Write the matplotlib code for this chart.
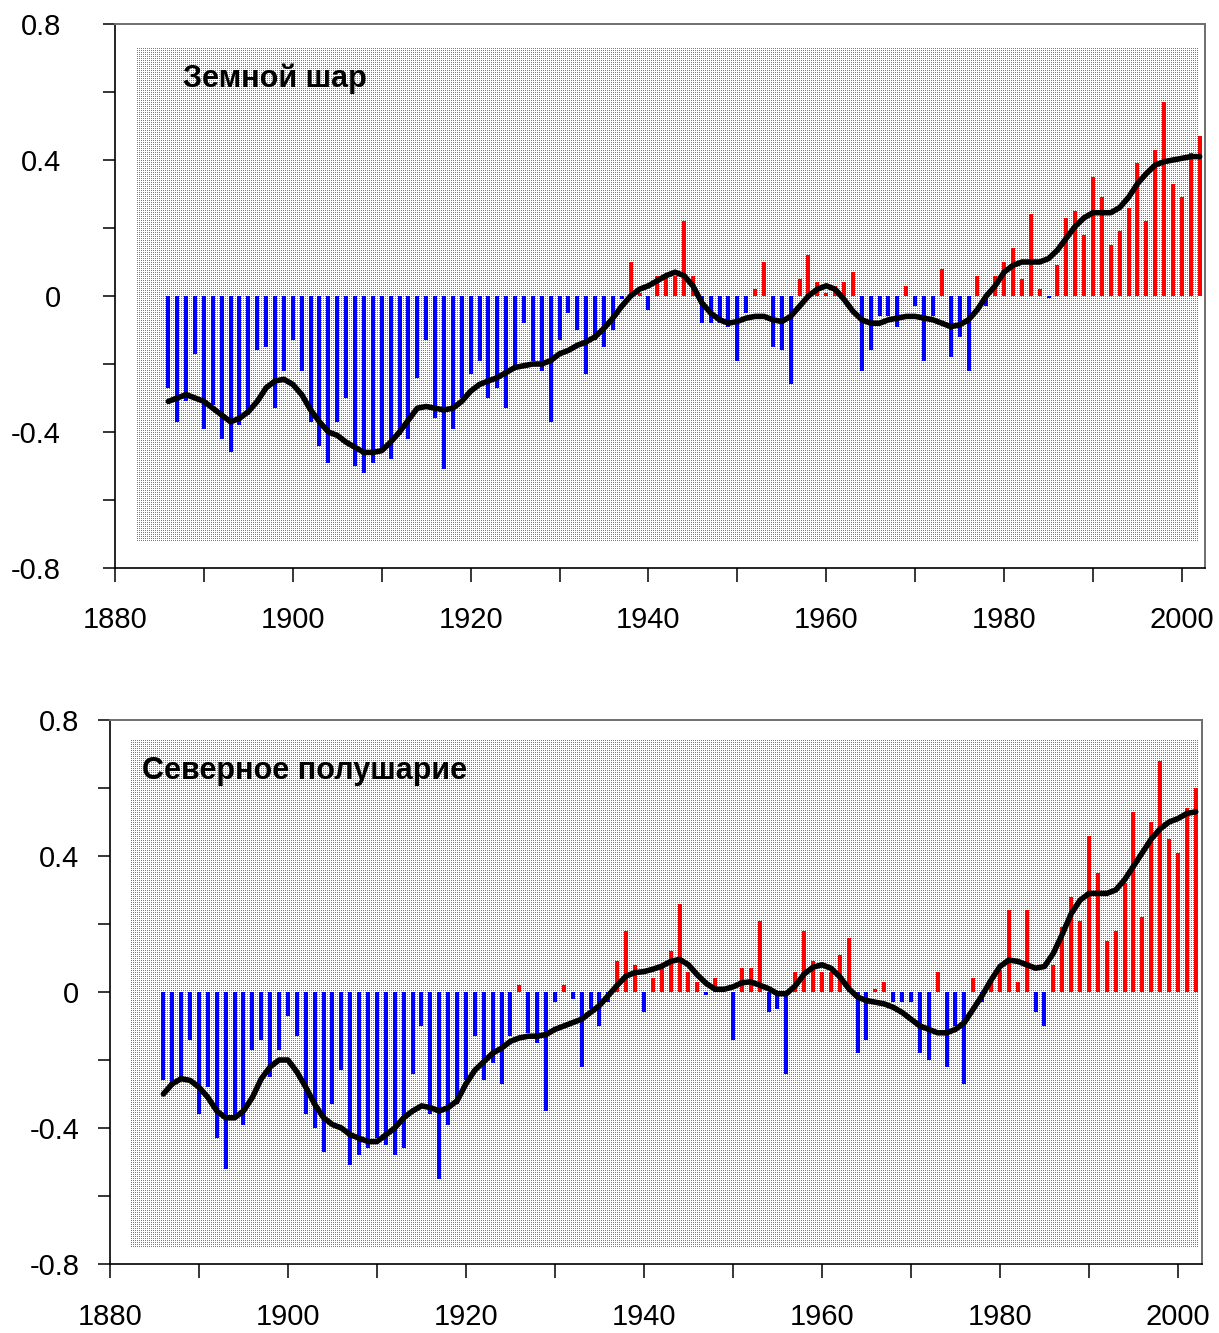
import numpy as np
import matplotlib
matplotlib.use("Agg")
import matplotlib.pyplot as plt
from matplotlib.colors import ListedColormap

plt.rcParams['font.family'] = ['Liberation Sans', 'DejaVu Sans']

years = list(range(1886, 2003))

# global (Земной шар) annual anomalies
globe_vals = [
    -0.27, -0.37, -0.31, -0.17, -0.39, -0.32, -0.42, -0.46, -0.38, -0.35,   # 1886-1895
    -0.16, -0.15, -0.33, -0.22, -0.13, -0.22, -0.37, -0.44, -0.49, -0.37,   # 1896-1905
    -0.30, -0.50, -0.52, -0.49, -0.45, -0.48, -0.41, -0.42, -0.24, -0.13,   # 1906-1915
    -0.36, -0.51, -0.39, -0.30, -0.23, -0.19, -0.30, -0.27, -0.33, -0.21,   # 1916-1925
    -0.08, -0.19, -0.22, -0.37, -0.13, -0.05, -0.10, -0.23, -0.13, -0.15,   # 1926-1935
    -0.10, -0.01, 0.10, 0.01, -0.04, 0.06, 0.06, 0.06, 0.22, 0.06,          # 1936-1945
    -0.08, -0.08, -0.08, -0.09, -0.19, -0.05, 0.02, 0.10, -0.15, -0.16,     # 1946-1955
    -0.26, 0.05, 0.12, 0.04, 0.01, 0.03, 0.04, 0.07, -0.22, -0.16,          # 1956-1965
    -0.06, -0.06, -0.09, 0.03, -0.03, -0.19, -0.06, 0.08, -0.18, -0.12,     # 1966-1975
    -0.22, 0.06, -0.03, 0.06, 0.10, 0.14, 0.05, 0.24, 0.02, -0.005,         # 1976-1985
    0.09, 0.23, 0.25, 0.18, 0.35, 0.29, 0.15, 0.19, 0.26, 0.39,             # 1986-1995
    0.22, 0.43, 0.57, 0.33, 0.29, 0.42, 0.47,                               # 1996-2002
]

globe_smooth = [
    -0.31, -0.30, -0.29, -0.30, -0.31, -0.33, -0.35, -0.37, -0.36, -0.34,
    -0.31, -0.27, -0.25, -0.245, -0.26, -0.29, -0.335, -0.37, -0.40, -0.41,
    -0.43, -0.445, -0.46, -0.46, -0.455, -0.43, -0.40, -0.365, -0.33, -0.325,
    -0.33, -0.335, -0.33, -0.31, -0.28, -0.26, -0.25, -0.24, -0.225, -0.21,
    -0.205, -0.20, -0.20, -0.19, -0.17, -0.16, -0.145, -0.135, -0.12, -0.095,
    -0.065, -0.03, 0.00, 0.02, 0.03, 0.045, 0.06, 0.07, 0.06, 0.03,
    -0.02, -0.05, -0.07, -0.08, -0.075, -0.065, -0.06, -0.06, -0.07, -0.075,
    -0.06, -0.03, 0.00, 0.02, 0.03, 0.02, -0.01, -0.045, -0.07, -0.08,
    -0.08, -0.07, -0.065, -0.06, -0.06, -0.065, -0.07, -0.08, -0.09, -0.085,
    -0.07, -0.04, 0.00, 0.03, 0.07, 0.09, 0.10, 0.10, 0.10, 0.11,
    0.135, 0.17, 0.205, 0.23, 0.245, 0.245, 0.245, 0.26, 0.29, 0.33,
    0.36, 0.385, 0.395, 0.40, 0.405, 0.41, 0.41,
]

# northern hemisphere (Северное полушарие)
nh_vals = [
    -0.26, -0.27, -0.25, -0.14, -0.36, -0.28, -0.43, -0.52, -0.37, -0.39,
    -0.17, -0.14, -0.25, -0.17, -0.07, -0.13, -0.36, -0.40, -0.47, -0.33,
    -0.23, -0.51, -0.48, -0.46, -0.43, -0.45, -0.48, -0.46, -0.24, -0.10,
    -0.36, -0.55, -0.39, -0.33, -0.26, -0.13, -0.26, -0.21, -0.27, -0.13,
    0.02, -0.12, -0.15, -0.35, -0.03, 0.02, -0.02, -0.22, -0.05, -0.10,
    -0.03, 0.09, 0.18, 0.08, -0.06, 0.04, 0.07, 0.12, 0.26, 0.06,
    0.03, -0.01, 0.04, 0.00, -0.14, 0.07, 0.07, 0.21, -0.06, -0.05,
    -0.24, 0.06, 0.18, 0.09, 0.06, 0.06, 0.11, 0.16, -0.18, -0.14,
    0.01, 0.03, -0.03, -0.03, -0.03, -0.18, -0.20, 0.06, -0.22, -0.10,
    -0.27, 0.04, -0.03, 0.03, 0.065, 0.24, 0.03, 0.24, -0.06, -0.10,
    0.08, 0.19, 0.28, 0.21, 0.46, 0.35, 0.15, 0.18, 0.32, 0.53,
    0.22, 0.50, 0.68, 0.45, 0.41, 0.54, 0.60,
]

nh_smooth = [
    -0.30, -0.27, -0.255, -0.26, -0.28, -0.31, -0.35, -0.37, -0.37, -0.35,
    -0.31, -0.255, -0.22, -0.20, -0.20, -0.235, -0.28, -0.33, -0.37, -0.39,
    -0.40, -0.42, -0.43, -0.44, -0.44, -0.42, -0.40, -0.37, -0.35, -0.335,
    -0.34, -0.35, -0.34, -0.32, -0.27, -0.23, -0.205, -0.18, -0.165, -0.145,
    -0.135, -0.13, -0.13, -0.125, -0.11, -0.10, -0.09, -0.08, -0.06, -0.04,
    -0.01, 0.02, 0.047, 0.057, 0.06, 0.067, 0.076, 0.09, 0.096, 0.08,
    0.05, 0.025, 0.008, 0.008, 0.015, 0.027, 0.03, 0.02, 0.01, -0.005,
    -0.005, 0.018, 0.053, 0.073, 0.08, 0.07, 0.045, 0.01, -0.015, -0.025,
    -0.03, -0.035, -0.045, -0.06, -0.08, -0.10, -0.11, -0.12, -0.12, -0.11,
    -0.09, -0.05, -0.01, 0.035, 0.075, 0.094, 0.09, 0.08, 0.07, 0.075,
    0.114, 0.17, 0.23, 0.27, 0.29, 0.29, 0.29, 0.30, 0.33, 0.37,
    0.41, 0.45, 0.48, 0.50, 0.51, 0.525, 0.53,
]

titles = ['Земной шар', 'Северное полушарие']
y_ticks = [-0.8, -0.4, 0, 0.4, 0.8]
y_labels = ['-0.8', '-0.4', '0', '0.4', '0.8']
x_ticks = [1880, 1900, 1920, 1940, 1960, 1980, 2000]

FIG_W, FIG_H = 1219, 1333
stipple_cmap = ListedColormap(['white', '#7a7a7a'])


def stipple(fig, x0, y0, x1, y1):
    # fine grey dot block, placed pixel for pixel (top-left origin coords)
    pat = np.zeros((y1 - y0, x1 - x0))
    pat[::2, ::2] = 1
    fig.figimage(pat, xo=x0, yo=FIG_H - y1, cmap=stipple_cmap,
                 origin='upper', zorder=-1)


def draw_panel(fig, rect, vals, smooth, title, xmax, title_pos, ypad, xpad):
    ax = fig.add_axes(rect)
    ax.set_facecolor('none')
    ax.set_xlim(1880, xmax)
    ax.set_ylim(-0.8, 0.8)

    colors = ['#ff0000' if v > 0 else '#0000ff' for v in vals]
    ax.bar(years, vals, width=0.45, color=colors, linewidth=0, zorder=2)
    ax.plot(years, smooth, color='black', lw=4.0, zorder=3,
            solid_capstyle='round', solid_joinstyle='round')

    ax.text(title_pos[0], title_pos[1], title, transform=ax.transAxes,
            fontsize=22, fontweight='bold', va='center', ha='left')

    ax.set_yticks(y_ticks)
    ax.set_yticklabels(y_labels)
    ax.set_yticks([-0.6, -0.2, 0.2, 0.6], minor=True)
    ax.set_xticks(x_ticks)
    ax.set_xticks(list(range(1890, 2010, 20)), minor=True)
    ax.tick_params(axis='y', which='both', direction='out', length=9,
                   width=1.1, labelsize=21, pad=ypad)
    ax.tick_params(axis='x', which='both', direction='out', length=10,
                   width=1.1, labelsize=21, pad=xpad)

    for s in ['left', 'bottom']:
        ax.spines[s].set_color('black')
        ax.spines[s].set_linewidth(1.2)
    for s in ['top', 'right']:
        ax.spines[s].set_color('#6e6e6e')
        ax.spines[s].set_linewidth(1.4)
    return ax


fig = plt.figure(figsize=(FIG_W / 100, FIG_H / 100), dpi=100)

stipple(fig, 137, 48, 1198, 541)
stipple(fig, 131, 740, 1198, 1247)

draw_panel(fig, [115 / FIG_W, 1 - 568 / FIG_H, 1090 / FIG_W, 544 / FIG_H],
           globe_vals, globe_smooth, titles[0], 2002.6,
           (0.062, 0.90), 30, 17)

draw_panel(fig, [110 / FIG_W, 1 - 1264 / FIG_H, 1092 / FIG_W, 544 / FIG_H],
           nh_vals, nh_smooth, titles[1], 2002.7,
           (0.029, 0.906), 13, 18)

fig.savefig('out.png', dpi=100)
